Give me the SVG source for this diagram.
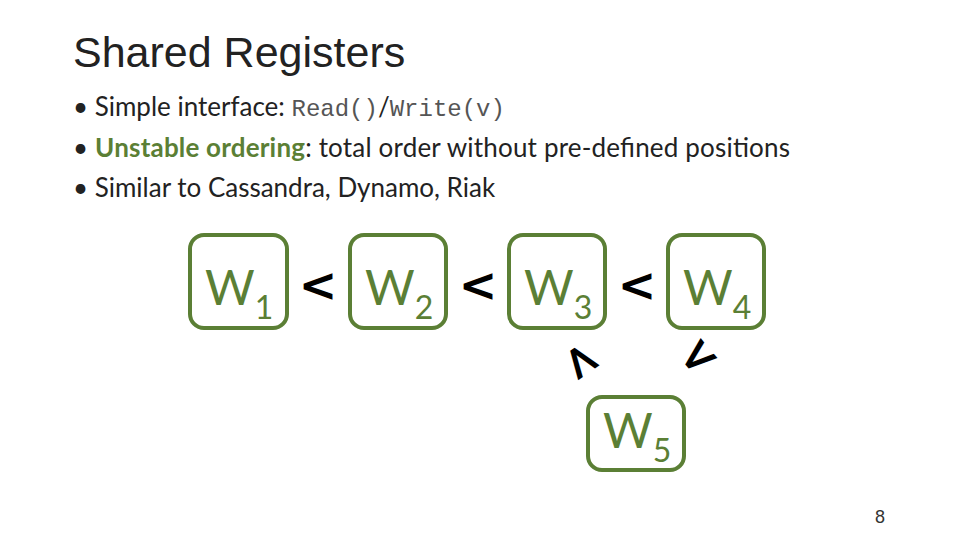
<svg xmlns="http://www.w3.org/2000/svg" width="960" height="540" viewBox="0 0 960 540">
<style>
.b{font-family:Lato,"Open Sans",sans-serif;font-size:26px;fill:#222}
.m{font-family:"Liberation Mono",monospace;fill:#555;font-size:24px}
.box{fill:none;stroke:#5b7f35;stroke-width:4}
.w{font-family:Lato,"Open Sans",sans-serif;font-size:48px;fill:#5b7f35}
.s{font-size:32px}
.lt{font-family:"DejaVu Sans",sans-serif;font-size:46px;font-weight:bold;fill:#000}
</style>
<rect width="960" height="540" fill="#fff"/>
<text x="73" y="67" font-family="Liberation Sans,sans-serif" font-size="43" fill="#222">Shared Registers</text>
<text class="b" x="73" y="116">• Simple interface: <tspan class="m">Read()</tspan>/<tspan class="m">Write(v)</tspan></text>
<text class="b" x="73" y="157" textLength="717">• <tspan font-weight="bold" fill="#5b7f35">Unstable ordering</tspan>: total order without pre-defined positions</text>
<text class="b" x="73" y="197">• Similar to Cassandra, Dynamo, Riak</text>
<g id="w1"><rect class="box" x="190" y="235" width="97" height="93" rx="14"/><text class="w" x="205" y="305">W<tspan class="s" dy="14">1</tspan></text></g>
<g id="w2"><rect class="box" x="350" y="235" width="96" height="93" rx="14"/><text class="w" x="365" y="305">W<tspan class="s" dy="14">2</tspan></text></g>
<g id="w3"><rect class="box" x="509" y="235" width="96" height="93" rx="14"/><text class="w" x="524" y="305">W<tspan class="s" dy="14">3</tspan></text></g>
<g id="w4"><rect class="box" x="668" y="235" width="96" height="93" rx="14"/><text class="w" x="683" y="305">W<tspan class="s" dy="14">4</tspan></text></g>
<g id="w5"><rect class="box" x="588" y="397" width="96" height="73" rx="14"/><text class="w" x="603" y="448">W<tspan class="s" dy="14">5</tspan></text></g>
<g id="connectors">
<text class="lt" x="318" y="301" text-anchor="middle">&lt;</text>
<text class="lt" x="478" y="301" text-anchor="middle">&lt;</text>
<text class="lt" x="637" y="301" text-anchor="middle">&lt;</text>
<text class="lt" transform="translate(582,360) rotate(55)" y="16" text-anchor="middle">&lt;</text>
<text class="lt" transform="translate(697,356) rotate(-40)" y="16" text-anchor="middle">&lt;</text>
</g>
<text x="880" y="523" font-family="Liberation Sans,sans-serif" font-size="18" fill="#333" text-anchor="middle">8</text>
</svg>
